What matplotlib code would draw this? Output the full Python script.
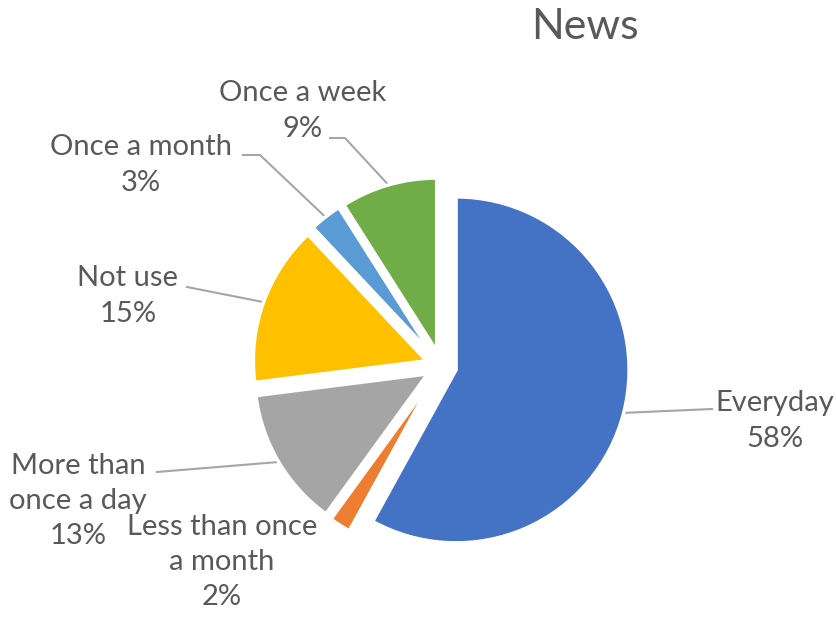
import numpy as np
import matplotlib.pyplot as plt

plt.rcParams['font.family'] = ['Lato', 'DejaVu Sans']

labels = ['Everyday', 'Less than once\na month', 'More than\nonce a day',
          'Not use', 'Once a month', 'Once a week']
shares = [58, 2, 13, 15, 3, 9]
colors = ['#4472C4', '#ED7D31', '#A5A5A5', '#FFC000', '#5B9BD5', '#70AD47']

# where each label block sits (pixels from top-left) and where its leader starts
label_pos = [(775, 421), (222, 562), (78, 501), (128, 296), (141, 165), (303, 111)]
leader_from = [[(712, 409)], None, [(157, 472)], [(187, 287)],
               [(243, 155), (260, 155)], [(330, 138), (345, 138)]]

W, H = 836, 619
cx, cy, R = 441, 366, 173
text_col = '#595959'


def px(x, y):
    return ((x - cx) / R, (cy - y) / R)


fig = plt.figure(figsize=(W / 100, H / 100), dpi=100)
ax = fig.add_axes([0, 0, 1, 1])
wedges, _ = ax.pie(shares, colors=colors, startangle=90, counterclock=False,
                   explode=[0.09] * len(shares), radius=1,
                   wedgeprops=dict(edgecolor='white', linewidth=2.5))
ax.set_aspect('auto')
ax.set_xlim(-cx / R, (W - cx) / R)
ax.set_ylim(-(H - cy) / R, cy / R)
ax.axis('off')

for w, lab, v, pos, lead in zip(wedges, labels, shares, label_pos, leader_from):
    ax.text(*px(*pos), f'{lab}\n{v}%', ha='center', va='center',
            multialignment='center', fontsize=21, color=text_col,
            linespacing=1.45)
    if lead is None:
        continue
    th = np.deg2rad((w.theta1 + w.theta2) / 2)
    end = (w.center[0] + w.r * np.cos(th), w.center[1] + w.r * np.sin(th))
    pts = [px(*p) for p in lead] + [end]
    xs, ys = zip(*pts)
    ax.plot(xs, ys, color='#A6A6A6', lw=1.5, zorder=0)

fig.text(585 / W, 1 - 27 / H, 'News', ha='center', va='center',
         fontsize=31, color=text_col)

fig.savefig('out.png', dpi=100, facecolor='white')
